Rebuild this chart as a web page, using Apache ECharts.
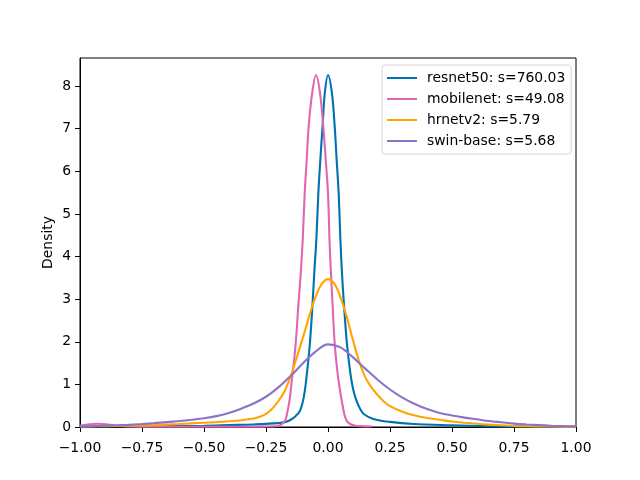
<!DOCTYPE html>
<html>
<head>
<meta charset="utf-8">
<script src="https://cdn.jsdelivr.net/npm/echarts@6/dist/echarts.min.js"></script>
<style>html,body{margin:0;padding:0;background:#fff;}#chart{width:640px;height:480px;}</style>
</head>
<body>
<div id="chart"></div>
<script>
// ---- data ----
const seriesNames = ['resnet50: s=760.03', 'mobilenet: s=49.08', 'hrnetv2: s=5.79', 'swin-base: s=5.68'];

const resnetX = [-1.0,-0.75,-0.5,-0.4,-0.3,-0.2,-0.17,-0.15,-0.13,-0.115,-0.105,-0.097,-0.09,-0.085,-0.078,-0.072,-0.063,-0.055,-0.047,-0.039,-0.031,-0.022,-0.013,0.0,0.016,0.027,0.035,0.043,0.05,0.056,0.065,0.075,0.085,0.095,0.105,0.116,0.13,0.145,0.183,0.25,0.344,0.5,0.64,0.77,1.0];
const resnetY = [0.01,0.02,0.03,0.045,0.06,0.09,0.12,0.17,0.26,0.36,0.52,0.72,1.0,1.26,1.65,2.04,2.82,3.65,4.4,5.48,6.26,7.05,7.83,8.26,7.83,7.05,6.26,5.48,4.4,3.65,2.82,2.04,1.5,1.08,0.8,0.6,0.42,0.3,0.19,0.12,0.07,0.04,0.02,0.01,0.003];

const mobileX = [-1.0,-0.97,-0.93,-0.89,-0.85,-0.8,-0.7,-0.5,-0.3,-0.25,-0.22,-0.2,-0.185,-0.172,-0.165,-0.155,-0.145,-0.136,-0.127,-0.12,-0.11,-0.102,-0.094,-0.086,-0.078,-0.064,-0.048,-0.032,-0.019,-0.009,0.0,0.006,0.012,0.019,0.026,0.036,0.046,0.055,0.066,0.075,0.089,0.11,0.13,0.176];
const mobileY = [0.03,0.06,0.075,0.06,0.03,0.01,0.005,0.005,0.005,0.01,0.015,0.025,0.07,0.16,0.32,0.63,1.15,1.6,2.2,2.82,3.6,4.39,5.48,6.26,7.05,7.83,8.26,7.83,7.05,6.26,5.48,4.4,3.6,2.82,2.04,1.4,0.95,0.63,0.3,0.15,0.07,0.03,0.02,0.01];

const hrnetX = [-1.0,-0.9,-0.8,-0.7,-0.6,-0.55,-0.5,-0.45,-0.4,-0.35,-0.3,-0.275,-0.25,-0.225,-0.2,-0.175,-0.15,-0.125,-0.1,-0.075,-0.05,-0.025,0.0,0.025,0.05,0.075,0.1,0.125,0.15,0.175,0.2,0.225,0.25,0.3,0.35,0.4,0.45,0.5,0.55,0.6,0.65,0.7,0.75,0.8,0.9,1.0];
const hrnetY = [0.01,0.02,0.03,0.045,0.07,0.085,0.1,0.115,0.135,0.16,0.2,0.24,0.31,0.43,0.61,0.84,1.2,1.65,2.12,2.62,3.06,3.36,3.47,3.37,3.05,2.6,2.05,1.55,1.17,0.93,0.75,0.6,0.49,0.36,0.27,0.21,0.17,0.13,0.1,0.075,0.055,0.04,0.025,0.018,0.01,0.005];

const swinX = [-1.0,-0.95,-0.9,-0.85,-0.8,-0.75,-0.7,-0.65,-0.6,-0.55,-0.5,-0.45,-0.4,-0.35,-0.3,-0.25,-0.2,-0.15,-0.1,-0.05,0.0,0.05,0.1,0.15,0.2,0.25,0.3,0.35,0.4,0.45,0.5,0.55,0.6,0.65,0.7,0.75,0.8,0.85,0.9,0.95,1.0];
const swinY = [0.015,0.02,0.03,0.04,0.05,0.07,0.09,0.115,0.14,0.17,0.205,0.255,0.33,0.43,0.55,0.71,0.93,1.2,1.5,1.77,1.94,1.87,1.64,1.37,1.11,0.88,0.69,0.54,0.42,0.33,0.27,0.22,0.18,0.14,0.11,0.08,0.06,0.045,0.03,0.02,0.015];

const xTicks = [-1.0,-0.75,-0.5,-0.25,0.0,0.25,0.5,0.75,1.0];
const yTicks = [0,1,2,3,4,5,6,7,8];
const colors = ['#0072b2', '#e066b0', '#ffa500', '#8c73c9'];

function pairs(xs, ys) { return xs.map((x, i) => [x, ys[i]]); }
const allData = [pairs(resnetX, resnetY), pairs(mobileX, mobileY), pairs(hrnetX, hrnetY), pairs(swinX, swinY)];

const font = 'DejaVu Sans';
const chart = echarts.init(document.getElementById('chart'), null, {renderer: 'canvas'});
chart.setOption({
  animation: false,
  backgroundColor: '#fff',
  color: colors,
  grid: {left: 80, right: 64, top: 58, bottom: 53, show: true, borderColor: '#000', borderWidth: 1, backgroundColor: 'transparent'},
  legend: {
    orient: 'vertical', left: 382, top: 65,
    data: seriesNames,
    icon: 'rect',
    backgroundColor: '#fff', borderColor: '#d6d6d6', borderWidth: 1, borderRadius: 3,
    padding: [5, 6, 5, 5],
    itemWidth: 30, itemHeight: 2, itemGap: 5,
    textStyle: {fontFamily: font, fontSize: 13.9, color: '#000', padding: [0, 0, 0, 5], lineHeight: 16}
  },
  xAxis: {
    type: 'value', min: -1, max: 1, interval: 0.25,
    axisLine: {show: true, onZero: false, lineStyle: {color: '#000', width: 1}},
    axisTick: {show: true, inside: false, length: 5, lineStyle: {color: '#000'}, customValues: xTicks},
    axisLabel: {customValues: xTicks, fontFamily: font, fontSize: 13.9, color: '#000', margin: 14,
      formatter: v => (v < 0 ? '\u2212' + Math.abs(v).toFixed(2) : v.toFixed(2))},
    splitLine: {show: false}
  },
  yAxis: {
    type: 'value', min: 0, max: 8.66, interval: 1,
    name: 'Density', nameLocation: 'middle', nameGap: 25, nameMoveOverlap: false,
    nameTextStyle: {fontFamily: font, fontSize: 13.9, color: '#000'},
    axisLine: {show: true, onZero: false, lineStyle: {color: '#000', width: 1}},
    axisTick: {show: true, inside: false, length: 5, lineStyle: {color: '#000'}, customValues: yTicks},
    axisLabel: {customValues: yTicks, fontFamily: font, fontSize: 13.9, color: '#000', margin: 9},
    splitLine: {show: false}
  },
  series: allData.map((d, i) => ({
    name: seriesNames[i], type: 'line', data: d,
    symbol: 'none', smooth: 0.35,
    lineStyle: {width: 2.1, color: colors[i]},
    itemStyle: {color: colors[i]},
    clip: true, z: 2
  }))
});
</script>
</body>
</html>
